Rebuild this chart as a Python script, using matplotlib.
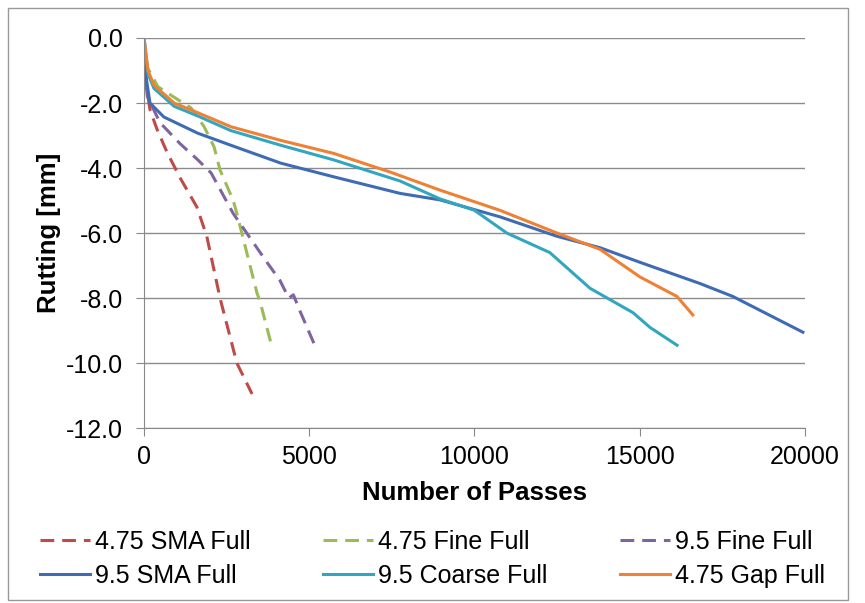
import matplotlib.pyplot as plt
from matplotlib.patches import Rectangle

plt.rcParams['font.family'] = ['Liberation Sans', 'DejaVu Sans']
plt.rcParams['axes.unicode_minus'] = False

# passes / rutting
sma475_x = [0, 90, 180, 390, 690, 1090, 1600, 1900, 2300, 2810, 3270]
sma475_y = [-0.5, -1.6, -2.2, -2.8, -3.5, -4.3, -5.2, -6.1, -8.0, -10.0, -10.95]

fine475_x = [0, 100, 420, 1030, 1420, 1820, 2120, 2300, 2700, 2810, 3420, 3510, 3870]
fine475_y = [0, -0.9, -1.5, -1.9, -2.15, -2.73, -3.35, -4.06, -5.0, -5.4, -7.85, -8.1, -9.5]

fine95_x = [0, 100, 480, 1090, 1630, 2030, 2700, 3720, 4110, 4380, 4520, 4600, 4720, 5230]
fine95_y = [-0.8, -1.8, -2.6, -3.25, -3.75, -4.15, -5.4, -6.9, -7.45, -8.0, -7.9, -8.1, -8.4, -9.6]

sma95_x = [0, 180, 600, 1630, 2630, 4140, 5740, 7750, 8960, 10770, 12500, 13800, 15010, 16820, 17820, 19940]
sma95_y = [-0.78, -2.0, -2.43, -2.93, -3.3, -3.85, -4.27, -4.78, -4.98, -5.5, -6.1, -6.45, -6.9, -7.55, -7.95, -9.05]

coarse95_x = [0, 120, 300, 910, 1630, 2630, 4140, 5740, 7750, 8960, 10000, 10980, 12280, 13500, 14800, 15310, 16130]
coarse95_y = [0, -1.1, -1.55, -2.1, -2.4, -2.85, -3.3, -3.75, -4.4, -4.95, -5.3, -6.0, -6.6, -7.7, -8.45, -8.9, -9.45]

gap475_x = [0, 120, 300, 910, 1630, 2630, 4140, 5740, 7440, 8960, 10770, 12500, 13800, 15010, 16130, 16610]
gap475_y = [0, -1.0, -1.45, -2.0, -2.3, -2.73, -3.15, -3.55, -4.12, -4.68, -5.3, -6.0, -6.5, -7.35, -7.95, -8.52]

x_ticks = [0, 5000, 10000, 15000, 20000]
y_ticks = [0, -2, -4, -6, -8, -10, -12]

fig = plt.figure(figsize=(8.65, 6.03), dpi=100)
ax = fig.add_axes([0.1665, 0.290, 0.764, 0.647])

dash = (0, (4.5, 2.6))
l1, = ax.plot(sma475_x, sma475_y, color='#BE4B48', lw=2.2, ls=dash, label='4.75 SMA Full')
l2, = ax.plot(fine475_x, fine475_y, color='#9BBB59', lw=2.2, ls=dash, label='4.75 Fine Full')
l3, = ax.plot(fine95_x, fine95_y, color='#7F64A2', lw=2.2, ls=dash, label='9.5 Fine Full')
l4, = ax.plot(sma95_x, sma95_y, color='#3E6BB3', lw=2.2, label='9.5 SMA Full')
l5, = ax.plot(coarse95_x, coarse95_y, color='#33A6BF', lw=2.2, label='9.5 Coarse Full')
l6, = ax.plot(gap475_x, gap475_y, color='#EE8133', lw=2.2, label='4.75 Gap Full')

ax.set_xlim(0, 20000)
ax.set_ylim(-12, 0)
ax.set_xticks(x_ticks)
ax.set_yticks(y_ticks)
ax.set_yticklabels(['%.1f' % v for v in y_ticks])
ax.tick_params(labelsize=18, color='#888888', length=6)
ax.tick_params(axis='y', pad=9)
ax.tick_params(axis='x', pad=6)
ax.grid(axis='y', color='#8c8c8c', lw=1)
ax.set_axisbelow(True)
for s in ['top', 'right']:
    ax.spines[s].set_visible(False)
for s in ['left', 'bottom']:
    ax.spines[s].set_color('#888888')
ax.set_xlabel('Number of Passes', fontsize=18.5, fontweight='bold', labelpad=9)
ax.set_ylabel('Rutting [mm]', fontsize=18.5, fontweight='bold', labelpad=4)

handles = [l1, l4, l2, l5, l3, l6]
fig.legend(handles=handles, labels=[h.get_label() for h in handles], ncol=3,
           loc='center left', bbox_to_anchor=(40 / 865, 1 - 559 / 603), fontsize=18, frameon=False,
           borderpad=0, borderaxespad=0, handlelength=2.0, columnspacing=2.9,
           labelspacing=0.4, handletextpad=0.2)

fig.patches.append(Rectangle((8 / 865, 3 / 603), 840 / 865, 592 / 603, transform=fig.transFigure,
                             fill=False, edgecolor='#999999', lw=1))

fig.savefig('out.png', dpi=100)
